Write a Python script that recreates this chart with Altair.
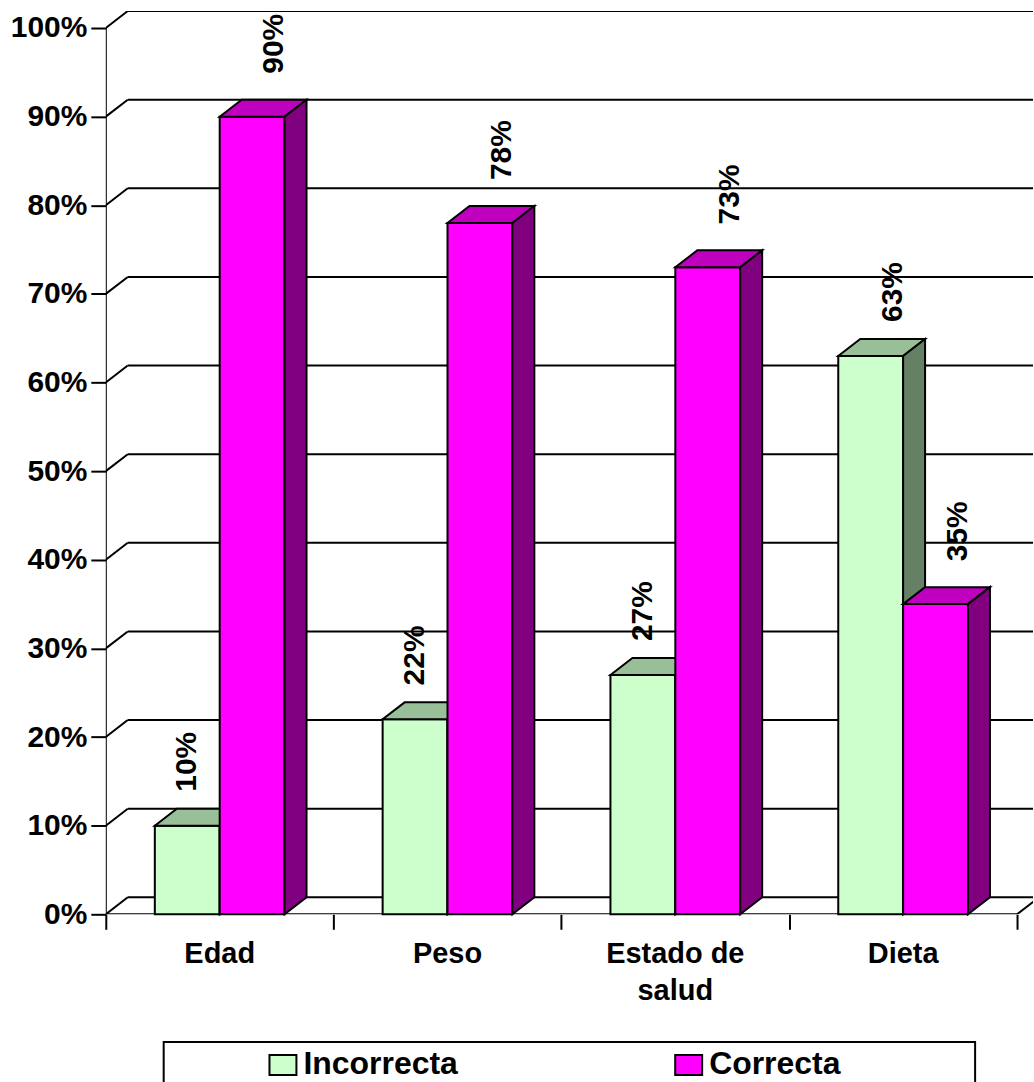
import altair as alt
import pandas as pd

# ---- data -----------------------------------------------------------------
CATEGORIES = ["Edad", "Peso", "Estado de\nsalud", "Dieta"]
SERIES = ["Incorrecta", "Correcta"]
INCORRECTA = [10, 22, 27, 63]
CORRECTA = [90, 78, 73, 35]
Y_TICKS = [0, 10, 20, 30, 40, 50, 60, 70, 80, 90, 100]

# ---- style ----------------------------------------------------------------
FONT = "Liberation Sans"
FRONT = {"Incorrecta": "#CCFFCC", "Correcta": "#FF00FF"}
TOP = {"Incorrecta": "#99BF99", "Correcta": "#BF00BF"}
SIDE = {"Incorrecta": "#668066", "Correcta": "#800080"}
LABEL_GAP = {"Incorrecta": 17, "Correcta": 26}   # px above the bar's back edge

# ---- geometry of the pseudo-3D plot ---------------------------------------
PLOT_W, PLOT_H = 929, 905
CAT_PX = 228.25          # pixels per category band
PCT_PX = 8.88            # pixels per percentage point
X_MAX = PLOT_W / CAT_PX
Y_MAX = PLOT_H / PCT_PX
DX = 22 / CAT_PX         # depth shift along x (data units)
DY = 17 / PCT_PX         # depth shift along y (data units)
BAR_W = 65 / CAT_PX
GROUP_PAD = (1 - len(SERIES) * BAR_W) / 2

values = {"Incorrecta": INCORRECTA, "Correcta": CORRECTA}

bar_rows, top_rows, side_rows, label_rows = [], [], [], []
for i, cat in enumerate(CATEGORIES):
    for j, s in enumerate(SERIES):
        v = values[s][i]
        x0 = i + GROUP_PAD + j * BAR_W
        x1 = x0 + BAR_W
        bid = f"{s}-{i}"
        bar_rows.append(dict(series=s, bar=bid, x0=x0, x1=x1, y0=0, v=v))
        top_rows += [
            dict(series=s, bar=bid, y=v, xa=x0, xb=x1),
            dict(series=s, bar=bid, y=v + DY, xa=x0 + DX, xb=x1 + DX),
        ]
        side_rows += [
            dict(series=s, bar=bid, x=x1, ya=0, yb=v),
            dict(series=s, bar=bid, x=x1 + DX, ya=DY, yb=v + DY),
        ]
        # a label beside a taller neighbour stays over the front face
        others = [values[o][i] for o in SERIES[j + 1:]]
        shift = 0 if any(o > v for o in others) else DX
        label_rows.append(dict(series=s, xl=(x0 + x1) / 2 + shift, yl=v + DY,
                               text=f"{v}%"))

bars = pd.DataFrame(bar_rows)
tops = pd.DataFrame(top_rows)
sides = pd.DataFrame(side_rows)
labels = pd.DataFrame(label_rows)

# back wall, floor and the front edges
n_cat = len(CATEGORIES)
frame_rows = []
for lv in Y_TICKS:
    frame_rows.append(dict(x=DX, x2=X_MAX, y=lv + DY, y2=lv + DY))      # back wall line
    frame_rows.append(dict(x=0, x2=DX, y=lv, y2=lv + DY))               # side-wall diagonal
frame_rows.append(dict(x=0, x2=0, y=0, y2=Y_TICKS[-1]))                 # value axis line
frame_rows.append(dict(x=0, x2=n_cat, y=0, y2=0))                       # floor front edge
frame_rows.append(dict(x=n_cat, x2=n_cat + DX, y=0, y2=DY))             # floor right diagonal
frame = pd.DataFrame(frame_rows)

cats = pd.DataFrame({"xc": [i + 0.5 for i in range(n_cat)], "y": 0, "cat": CATEGORIES})

# ---- shared scales / axes -------------------------------------------------
XS = alt.Scale(domain=[0, X_MAX], nice=False, zero=False)
YS = alt.Scale(domain=[0, Y_MAX], nice=False, zero=False)
AX_X = alt.Axis(values=list(range(n_cat + 1)), labels=False, domain=False, grid=False,
                ticks=True, tickSize=15, title=None)
AX_Y = alt.Axis(values=Y_TICKS, labelExpr="datum.value + '%'", domain=False, grid=False,
                ticks=True, tickSize=15, labelPadding=4, title=None)


def X(f, **kw):
    return alt.X(f"{f}:Q", scale=XS, axis=AX_X, **kw)


def Y(f, **kw):
    return alt.Y(f"{f}:Q", scale=YS, axis=AX_Y, **kw)


frame_layer = alt.Chart(frame).mark_rule(color="black", strokeWidth=2, clip=True).encode(
    x=X("x"), x2=alt.X2("x2"), y=Y("y"), y2=alt.Y2("y2")
)

layers = [frame_layer]
for s in SERIES:
    front = alt.Chart(bars[bars.series == s]).mark_rect(
        fill=FRONT[s], stroke="black", strokeWidth=2
    ).encode(x=X("x0"), x2=alt.X2("x1"), y=Y("y0"), y2=alt.Y2("v"))
    top = alt.Chart(tops[tops.series == s]).mark_area(
        orient="horizontal", fill=TOP[s], stroke="black", strokeWidth=2, opacity=1
    ).encode(y=Y("y"), x=X("xa", stack=False), x2=alt.X2("xb"), detail="bar:N")
    side = alt.Chart(sides[sides.series == s]).mark_area(
        orient="vertical", fill=SIDE[s], stroke="black", strokeWidth=2, opacity=1
    ).encode(x=X("x"), y=Y("ya", stack=False), y2=alt.Y2("yb"), detail="bar:N")
    layers += [front, top, side]

for s in SERIES:
    layers.append(
        alt.Chart(labels[labels.series == s]).mark_text(
            angle=270, align="left", baseline="middle", dx=LABEL_GAP[s],
            font=FONT, fontSize=30, fontWeight="bold", color="black"
        ).encode(x=X("xl"), y=Y("yl"), text="text:N")
    )

layers.append(
    alt.Chart(cats).mark_text(
        baseline="top", align="center", dy=26, lineBreak="\n", lineHeight=37,
        font=FONT, fontSize=29, fontWeight="bold", color="black"
    ).encode(x=X("xc"), y=Y("y"), text="cat:N")
)

main = alt.layer(*layers).properties(width=PLOT_W, height=PLOT_H)

# ---- legend panel ---------------------------------------------------------
legend_df = pd.DataFrame({"series": SERIES})
leg_x = alt.X("series:N", scale=alt.Scale(type="point", domain=SERIES, range=[119.5, 526],
                                          padding=0), axis=None)
leg_sq = alt.Chart(legend_df).mark_point(
    shape="M-1,-0.74L1,-0.74L1,0.74L-1,0.74Z", size=729, filled=True,
    stroke="black", strokeWidth=2, opacity=1
).encode(
    x=leg_x, y=alt.value(23),
    fill=alt.Fill("series:N", scale=alt.Scale(domain=SERIES, range=[FRONT[s] for s in SERIES]),
                  legend=None),
)
leg_txt = alt.Chart(legend_df).mark_text(
    align="left", baseline="alphabetic", dx=20.5, font=FONT, fontSize=32,
    fontWeight="bold", color="black"
).encode(x=leg_x, y=alt.value(32), text="series:N")

legend = alt.layer(leg_sq, leg_txt).properties(
    width=813, height=60, view=alt.ViewBackground(stroke="black", strokeWidth=2)
)

chart = alt.vconcat(main, legend, spacing=128, bounds="flush", center=True).properties(
    padding={"left": 9, "top": 9, "right": 0, "bottom": 0}
).configure_view(stroke="transparent").configure_axis(
    labelFont=FONT, labelFontSize=30, labelFontWeight="bold", labelColor="black",
    tickColor="black", tickWidth=2
)

chart.save("out.html", embed_options={"renderer": "svg", "actions": False})
